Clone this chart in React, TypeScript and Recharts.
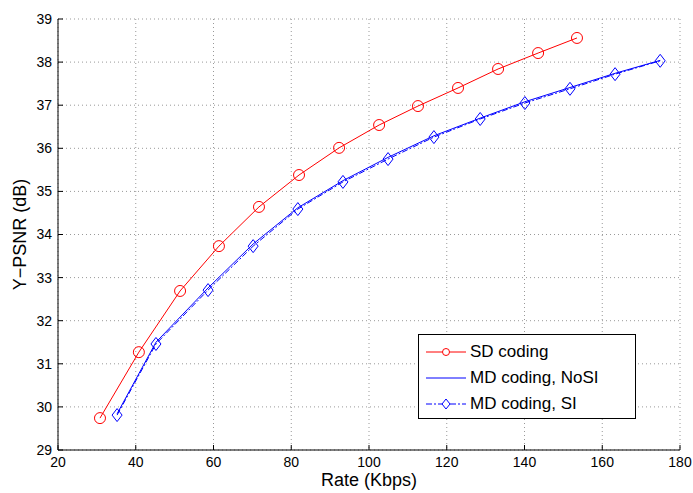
import {
  LineChart,
  Line,
  CartesianGrid,
  XAxis,
  YAxis,
  Legend,
  Label,
} from 'recharts';

const sdRate = [30.8, 40.8, 51.4, 61.4, 71.7, 82.0, 92.3, 102.6, 112.6, 122.9, 133.2, 143.5, 153.5];
const sdPsnr = [29.74, 31.27, 32.69, 33.73, 34.64, 35.38, 36.01, 36.54, 36.98, 37.4, 37.84, 38.21, 38.56];

const mdRate = [35.2, 45.2, 58.6, 70.2, 81.7, 93.3, 104.9, 116.7, 128.6, 140.1, 151.7, 163.3, 174.9];
const mdNoSiPsnr = [29.84, 31.5, 32.76, 33.78, 34.62, 35.25, 35.79, 36.29, 36.7, 37.08, 37.41, 37.74, 38.04];
const mdSiPsnr = [29.81, 31.46, 32.71, 33.73, 34.59, 35.22, 35.75, 36.26, 36.68, 37.05, 37.38, 37.72, 38.03];

const xTicks = [20, 40, 60, 80, 100, 120, 140, 160, 180];
const yTicks = [29, 30, 31, 32, 33, 34, 35, 36, 37, 38, 39];

const sdData = sdRate.map((rate, i) => ({ rate, psnr: sdPsnr[i] }));
const noSiData = mdRate.map((rate, i) => ({ rate, psnr: mdNoSiPsnr[i] }));
const siData = mdRate.map((rate, i) => ({ rate, psnr: mdSiPsnr[i] }));

const font = 'Arial, "Liberation Sans", Helvetica, sans-serif';

const Circle = (props: any) => {
  const { cx, cy } = props;
  return <circle cx={cx} cy={cy} r={5.5} fill='none' stroke='#ff0000' strokeWidth={1} />;
};

const Diamond = (props: any) => {
  const { cx, cy } = props;
  return (
    <polygon
      points={`${cx},${cy - 6.5} ${cx + 5},${cy} ${cx},${cy + 6.5} ${cx - 5},${cy}`}
      fill='none'
      stroke='#0000ff'
      strokeWidth={1}
    />
  );
};

const legendItems = [
  { name: 'SD coding', color: '#ff0000', dash: undefined, marker: 'circle' },
  { name: 'MD coding, NoSI', color: '#0000ff', dash: undefined, marker: 'none' },
  { name: 'MD coding, SI', color: '#0000ff', dash: '6 2 2 2', marker: 'diamond' },
];

const LegendBox = () => (
  <div
    style={{
      border: '1px solid #000',
      background: '#fff',
      width: 216,
      height: 79,
      boxSizing: 'content-box',
      fontFamily: font,
      fontSize: 17,
      paddingTop: 4,
    }}
  >
    {legendItems.map((item) => (
      <div key={item.name} style={{ display: 'flex', alignItems: 'center', height: 26 }}>
        <svg width={40} height={20} style={{ marginLeft: 7, marginRight: 4 }}>
          <line x1={0} y1={10} x2={40} y2={10} stroke={item.color} strokeWidth={1} strokeDasharray={item.dash} />
          {item.marker === 'circle' && <circle cx={20} cy={10} r={3.5} fill='#fff' stroke={item.color} />}
          {item.marker === 'diamond' && (
            <polygon points='20,5 24,10 20,15 16,10' fill='#fff' stroke={item.color} />
          )}
        </svg>
        <span style={{ color: '#000' }}>{item.name}</span>
      </div>
    ))}
  </div>
);

const App = () => {
  return (
    <div style={{ position: 'absolute', left: 0, top: 0, width: 693, height: 493, background: '#fff' }}>
      <LineChart
        width={693}
        height={493}
        margin={{ top: 19, right: 13, left: 18, bottom: 13 }}
        style={{ fontFamily: font }}
      >
        <CartesianGrid stroke='#999' strokeDasharray='1 3' />
        <XAxis
          type='number'
          dataKey='rate'
          domain={[20, 180]}
          ticks={xTicks}
          allowDataOverflow
          height={30}
          stroke='#000'
          tickSize={-5}
          tick={{ fill: '#000', fontSize: 14 }}
          tickMargin={12}
        >
          <Label value='Rate (Kbps)' position='insideBottom' offset={-6} fill='#000' fontSize={18} />
        </XAxis>
        <XAxis
          xAxisId='top'
          orientation='top'
          type='number'
          domain={[20, 180]}
          ticks={xTicks}
          stroke='#000'
          tick={false}
          tickSize={-5}
          height={0}
        />
        <YAxis
          type='number'
          dataKey='psnr'
          domain={[29, 39]}
          ticks={yTicks}
          allowDataOverflow
          width={40}
          stroke='#000'
          tickSize={-5}
          tick={{ fill: '#000', fontSize: 14 }}
          tickMargin={11}
        >
          <Label
            value='Y−PSNR (dB)'
            angle={-90}
            position='insideLeft'
            offset={2}
            fill='#000'
            fontSize={18}
            style={{ textAnchor: 'middle' }}
          />
        </YAxis>
        <YAxis
          yAxisId='right'
          orientation='right'
          type='number'
          domain={[29, 39]}
          ticks={yTicks}
          stroke='#000'
          tick={false}
          tickSize={-5}
          width={0}
        />
        <Legend
          verticalAlign='middle'
          align='center'
          content={<LegendBox />}
          wrapperStyle={{ position: 'absolute', left: 418, top: 334, width: 'auto', height: 'auto' }}
        />
        <Line
          data={sdData}
          dataKey='psnr'
          name='SD coding'
          stroke='#ff0000'
          strokeWidth={1}
          dot={<Circle />}
          isAnimationActive={false}
        />
        <Line
          data={noSiData}
          dataKey='psnr'
          name='MD coding, NoSI'
          stroke='#0000ff'
          strokeWidth={1}
          dot={false}
          isAnimationActive={false}
        />
        <Line
          data={siData}
          dataKey='psnr'
          name='MD coding, SI'
          stroke='#0000ff'
          strokeWidth={1}
          strokeDasharray='6 2 2 2'
          dot={<Diamond />}
          isAnimationActive={false}
        />
      </LineChart>
    </div>
  );
};

export default App;
